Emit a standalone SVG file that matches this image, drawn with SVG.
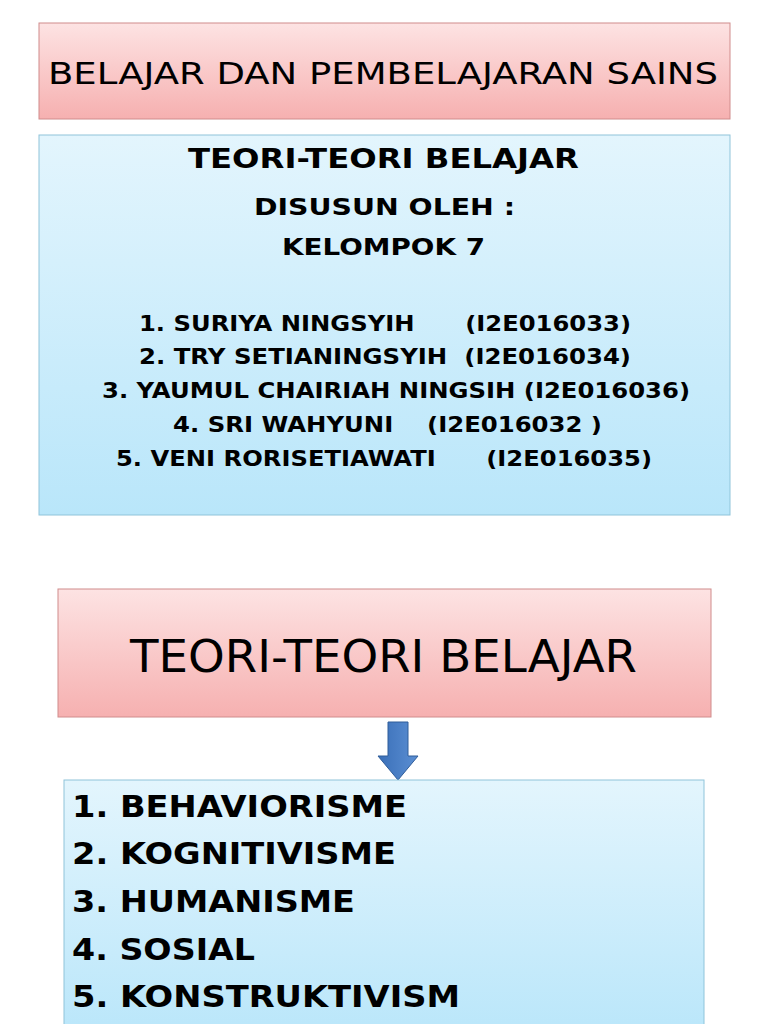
<svg xmlns="http://www.w3.org/2000/svg" width="768" height="1024" viewBox="0 0 768 1024">
<defs>
<linearGradient id="pk" x1="0" y1="0" x2="0" y2="1"><stop offset="0" stop-color="#fde3e3"/><stop offset="1" stop-color="#f6b0b0"/></linearGradient>
<linearGradient id="bl" x1="0" y1="0" x2="0" y2="1"><stop offset="0" stop-color="#e3f5fd"/><stop offset="1" stop-color="#b9e6fa"/></linearGradient>
<linearGradient id="ar" x1="0" y1="0" x2="1" y2="0"><stop offset="0" stop-color="#3a6fb8"/><stop offset="1" stop-color="#5b8fd3"/></linearGradient>
<style>
.pk{fill:url(#pk);stroke:#d08c8c;stroke-width:1}
.bl{fill:url(#bl);stroke:#8fc4da;stroke-width:1}
text{font-family:"DejaVu Sans",sans-serif;fill:#000}
.b{font-weight:bold}
</style>
</defs>
<rect width="768" height="1024" fill="#fff"/>
<g id="title"><rect class="pk" x="39" y="23" width="691" height="96"/>
<text x="48" y="84" font-size="31" textLength="670" lengthAdjust="spacingAndGlyphs">BELAJAR DAN PEMBELAJARAN SAINS</text></g>
<g id="info"><rect class="bl" x="39" y="135" width="691" height="380"/>
<text class="b" x="188" y="168" font-size="26" textLength="391" lengthAdjust="spacingAndGlyphs">TEORI-TEORI BELAJAR</text>
<text class="b" x="254" y="215" font-size="23" textLength="261" lengthAdjust="spacingAndGlyphs">DISUSUN OLEH :</text>
<text class="b" x="282" y="255" font-size="23" textLength="203" lengthAdjust="spacingAndGlyphs">KELOMPOK 7</text>
<g class="b" font-size="21">
<text x="139" y="331" xml:space="preserve" textLength="492" lengthAdjust="spacingAndGlyphs">1. SURIYA NINGSYIH      (I2E016033)</text>
<text x="139" y="364" xml:space="preserve" textLength="492" lengthAdjust="spacingAndGlyphs">2. TRY SETIANINGSYIH  (I2E016034)</text>
<text x="102" y="398" textLength="588" lengthAdjust="spacingAndGlyphs">3. YAUMUL CHAIRIAH NINGSIH (I2E016036)</text>
<text x="173" y="432" xml:space="preserve" textLength="429" lengthAdjust="spacingAndGlyphs">4. SRI WAHYUNI    (I2E016032 )</text>
<text x="116" y="466" xml:space="preserve" textLength="536" lengthAdjust="spacingAndGlyphs">5. VENI RORISETIAWATI      (I2E016035)</text>
</g></g>
<g id="teori"><rect class="pk" x="58" y="589" width="653" height="128"/>
<text x="130" y="672" font-size="45" textLength="507" lengthAdjust="spacingAndGlyphs">TEORI-TEORI BELAJAR</text></g>
<g id="connectors"><path d="M388 722 H408 V756 H418 L398 780 L378 756 H388 Z" fill="url(#ar)" stroke="#2f5c99" stroke-width="1"/></g>
<g id="list"><rect class="bl" x="64" y="780" width="640" height="260"/>
<g class="b" font-size="31">
<text x="72" y="817" textLength="335" lengthAdjust="spacingAndGlyphs">1. BEHAVIORISME</text>
<text x="72" y="864" textLength="324" lengthAdjust="spacingAndGlyphs">2. KOGNITIVISME</text>
<text x="72" y="912" textLength="283" lengthAdjust="spacingAndGlyphs">3. HUMANISME</text>
<text x="72" y="960" textLength="183" lengthAdjust="spacingAndGlyphs">4. SOSIAL</text>
<text x="72" y="1007" textLength="388" lengthAdjust="spacingAndGlyphs">5. KONSTRUKTIVISM</text>
</g></g>
</svg>
